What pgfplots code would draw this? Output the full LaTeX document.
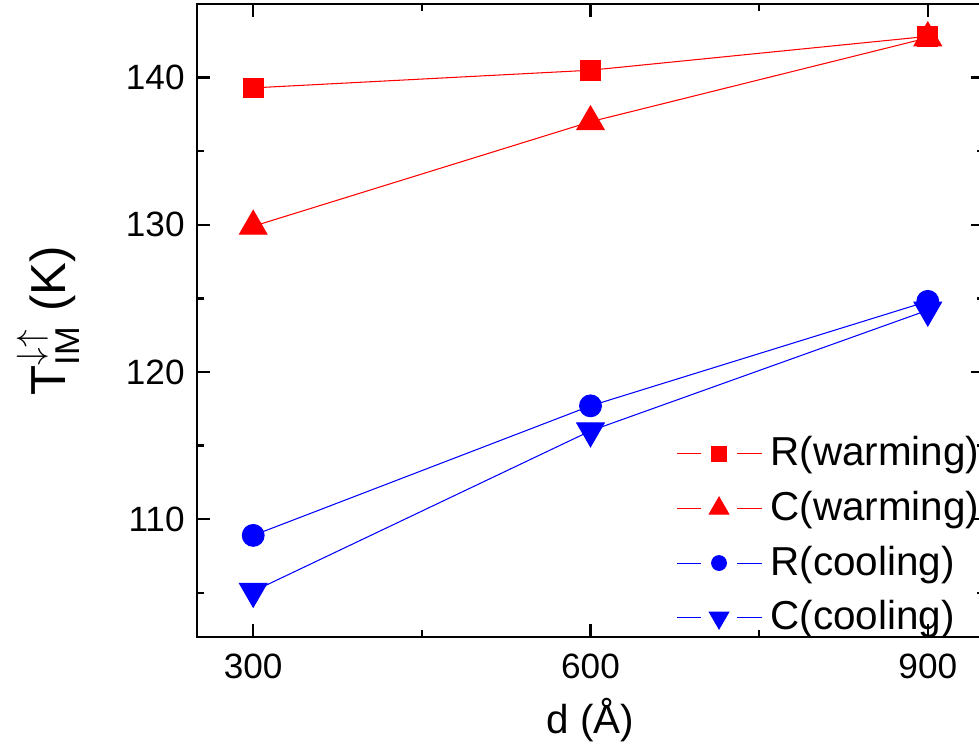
\documentclass[border=0pt]{standalone}
\usepackage{amsmath}
\usepackage{fontspec}
\setmainfont{Liberation Sans}
\usepackage{pgfplots}
\pgfplotsset{compat=1.18}

\definecolor{pureRed}{RGB}{255,0,0}
\definecolor{pureBlue}{RGB}{0,0,255}

\begin{document}
\begin{tikzpicture}
\begin{axis}[
    name=ax,
    scale only axis,
    width=7.87cm, height=6.33cm,
    xmin=250, xmax=950,
    ymin=102, ymax=145,
    xtick={300,600,900},
    minor xtick={450,750},
    ytick={110,120,130,140},
    minor ytick={105,115,125,135},
    tick align=inside,
    major tick length=0.13cm,
    minor tick length=0.07cm,
    axis line style={line width=0.7pt},
    every tick/.style={black, line width=0.7pt},
    /pgf/number format/assume math mode=true,
    ticklabel style={font=\fontsize{10}{12}\selectfont},
    xticklabel style={yshift=-0.05cm},
    xlabel={d (Å)},
    ylabel={T$^{\downarrow\uparrow}_{\text{IM}}$ (K)},
    xlabel style={font=\fontsize{11.5}{13}\selectfont, yshift=0.05cm},
    ylabel style={font=\fontsize{14}{16}\selectfont, yshift=0.22cm},
    legend style={draw=none, fill=none, at={(0.595,0.34)}, anchor=north west,
        font=\fontsize{11.5}{13}\selectfont, row sep=0.06cm,
        nodes={inner xsep=0.08cm}},
    legend cell align=left,
    legend image code/.code={
        \draw[#1,mark=none] (0cm,0cm) -- (0.24cm,0cm) (0.60cm,0cm) -- (0.85cm,0cm);
        \draw[#1,only marks] plot coordinates {(0.42cm,0cm)};},
]
\addplot[pureRed, line width=0.3pt, mark=square*, mark size=2.8pt,
    legend image post style={mark size=2.1pt}]
    coordinates {(300,139.3) (600,140.5) (900,142.8)};
\addlegendentry{R(warming)}
\addplot[pureRed, line width=0.3pt, mark=triangle*, mark size=4.5pt,
    legend image post style={mark size=3.2pt}]
    coordinates {(300,129.9) (600,137.0) (900,142.7)};
\addlegendentry{C(warming)}
\addplot[pureBlue, line width=0.3pt, mark=*, mark size=3.1pt,
    legend image post style={mark size=2.1pt}]
    coordinates {(300,108.9) (600,117.7) (900,124.8)};
\addlegendentry{R(cooling)}
\addplot[pureBlue, line width=0.3pt, mark=triangle*, mark size=4.5pt,
    mark options={rotate=180},
    legend image post style={mark size=3.2pt}]
    coordinates {(300,105.1) (600,116.0) (900,124.2)};
\addlegendentry{C(cooling)}
\end{axis}
\pgfresetboundingbox
\path ([shift={(-1.97cm,-1.13cm)}]ax.south west) rectangle ([shift={(-0.05cm,0.04cm)}]ax.north east);
\end{tikzpicture}
\end{document}
